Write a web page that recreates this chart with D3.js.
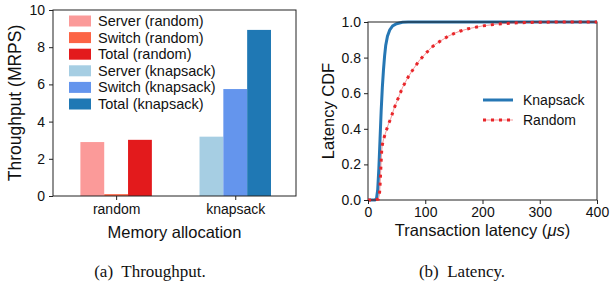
<!DOCTYPE html>
<html><head><meta charset="utf-8">
<script src="https://cdn.jsdelivr.net/npm/d3@7"></script>
<style>
html,body{margin:0;padding:0;background:#fff;}
svg{display:block;}
text{font-family:"Liberation Sans",Arial,sans-serif;fill:#111;}
.cap{font-family:"Liberation Serif","DejaVu Serif",serif;white-space:pre;}
</style></head>
<body>
<svg id="c" width="611" height="287"></svg>
<script>
// ---- data: throughput ----
const groups = ["random", "knapsack"];
const seriesNames = ["Server (random)", "Switch (random)", "Total (random)",
                     "Server (knapsack)", "Switch (knapsack)", "Total (knapsack)"];
const seriesColors = ["#fb9a99", "#fc6445", "#e31a1c", "#a6cee3", "#6495ed", "#1f78b4"];
const randomValues = [2.9, 0.1, 3.02];      // server, switch, total
const knapsackValues = [3.19, 5.75, 8.93];  // server, switch, total
const yTicksA = [0, 2, 4, 6, 8, 10];

// ---- data: latency CDF ----
const knapsackX = [0, 12, 15, 17, 19, 21, 23, 25, 27, 29, 31, 34, 38, 43, 50, 60, 70, 400];
const knapsackCDF = [0, 0, 0.01, 0.06, 0.18, 0.34, 0.50, 0.63, 0.73, 0.81, 0.87, 0.92, 0.955, 0.978, 0.99, 0.998, 1, 1];
const randomX = [0, 10, 18, 20, 21, 22, 23, 24, 25, 27, 30, 35, 40, 45, 50, 55, 60, 70, 80, 90, 100,
                 110, 120, 130, 140, 150, 160, 175, 190, 200, 225, 250, 275, 300, 350, 400];
const randomCDF = [0, 0, 0.005, 0.03, 0.08, 0.15, 0.22, 0.28, 0.31, 0.34, 0.37, 0.42, 0.46, 0.51, 0.55, 0.59, 0.63, 0.69, 0.74, 0.785, 0.82,
                   0.855, 0.88, 0.9, 0.92, 0.935, 0.948, 0.962, 0.972, 0.978, 0.988, 0.994, 0.997, 0.999, 1, 1];
const xTicksB = [0, 100, 200, 300, 400];
const yTicksB = [0, 0.2, 0.4, 0.6, 0.8, 1.0];

const svg = d3.select("#c");
const AX = "#222";

// ================= Panel (a) =================
const A = {l: 53, r: 296, t: 10, b: 196};
const xA = d3.scaleLinear().domain([-0.53, 1.51]).range([A.l, A.r]);
const yA = d3.scaleLinear().domain([0, 10]).range([A.b, A.t]);
const gA = svg.append("g");
const barW = 0.2;
const offsets = [-0.2, 0, 0.2];
const barData = [];
randomValues.forEach((v, i) => barData.push({g: 0, off: offsets[i], v, c: seriesColors[i]}));
knapsackValues.forEach((v, i) => barData.push({g: 1, off: offsets[i], v, c: seriesColors[i + 3]}));
gA.selectAll("rect.bar").data(barData).enter().append("rect")
  .attr("x", d => xA(d.g + d.off - barW / 2))
  .attr("width", d => xA(d.g + d.off + barW / 2) - xA(d.g + d.off - barW / 2))
  .attr("y", d => yA(d.v)).attr("height", d => yA(0) - yA(d.v))
  .attr("fill", d => d.c);

// frame
gA.append("rect").attr("x", A.l).attr("y", A.t).attr("width", A.r - A.l).attr("height", A.b - A.t)
  .attr("fill", "none").attr("stroke", AX).attr("stroke-width", 1);

const axYA = d3.axisLeft(yA).tickValues(yTicksA).tickSize(4).tickPadding(4).tickFormat(d3.format("d"));
gA.append("g").attr("transform", `translate(${A.l},0)`).call(axYA)
  .call(g => { g.select(".domain").remove(); g.selectAll("line").attr("stroke", AX);
    g.selectAll("text").attr("font-size", 14).attr("font-family", "Liberation Sans").attr("fill", "#111"); });
const axXA = d3.axisBottom(xA).tickValues([0, 1]).tickSize(4).tickPadding(4).tickFormat((d, i) => groups[i]);
gA.append("g").attr("transform", `translate(0,${A.b})`).call(axXA)
  .call(g => { g.select(".domain").remove(); g.selectAll("line").attr("stroke", AX);
    g.selectAll("text").attr("font-size", 14).attr("font-family", "Liberation Sans").attr("fill", "#111"); });

gA.append("text").attr("x", (A.l + A.r) / 2).attr("y", 238).attr("text-anchor", "middle")
  .attr("font-size", 16.5).text("Memory allocation");
gA.append("text").attr("transform", `translate(21,${(A.t + A.b) / 2}) rotate(-90)`).attr("text-anchor", "middle")
  .attr("font-size", 17.5).text("Throughput (MRPS)");

// legend (a)
const legA = gA.append("g");
seriesNames.forEach((n, i) => {
  const cy = 21 + i * 16.6;
  legA.append("rect").attr("x", 69).attr("y", cy - 5.5).attr("width", 22).attr("height", 11).attr("fill", seriesColors[i]);
  legA.append("text").attr("x", 98).attr("y", cy).attr("dy", "0.35em").attr("font-size", 14.5).text(n);
});

// caption (a)
svg.append("text").attr("class", "cap").attr("x", 150).attr("y", 277).attr("text-anchor", "middle")
  .attr("font-size", 17).text("(a)  Throughput.");

// ================= Panel (b) =================
const B = {l: 368, r: 597, t: 22, b: 200};
const xB = d3.scaleLinear().domain([0, 400]).range([B.l, B.r]);
const yB = d3.scaleLinear().domain([0, 1]).range([B.b, B.t]);
const gB = svg.append("g");
const line = d3.line().x(d => xB(d[0])).y(d => yB(d[1]));
const kData = knapsackX.map((x, i) => [x, knapsackCDF[i]]);
const rData = randomX.map((x, i) => [x, randomCDF[i]]);
const clip = svg.append("clipPath").attr("id", "clipB").append("rect")
  .attr("x", B.l - 2).attr("y", B.t - 3).attr("width", B.r - B.l + 4).attr("height", B.b - B.t + 5);

gB.append("path").datum(kData).attr("d", line).attr("fill", "none")
  .attr("stroke", "#2677b4").attr("stroke-width", 3).attr("clip-path", "url(#clipB)");

gB.append("rect").attr("x", B.l).attr("y", B.t).attr("width", B.r - B.l).attr("height", B.b - B.t)
  .attr("fill", "none").attr("stroke", AX).attr("stroke-width", 1);

gB.append("path").datum(rData).attr("d", line).attr("fill", "none")
  .attr("stroke", "#e8262a").attr("stroke-width", 0.8).attr("stroke-opacity", 0.6).attr("clip-path", "url(#clipB)");
gB.append("path").datum(rData).attr("d", line).attr("fill", "none")
  .attr("stroke", "#e8262a").attr("stroke-width", 3).attr("stroke-dasharray", "3,5").attr("clip-path", "url(#clipB)");

const axYB = d3.axisLeft(yB).tickValues(yTicksB).tickSize(4).tickPadding(3).tickFormat(d3.format(".1f"));
gB.append("g").attr("transform", `translate(${B.l},0)`).call(axYB)
  .call(g => { g.select(".domain").remove(); g.selectAll("line").attr("stroke", AX);
    g.selectAll("text").attr("font-size", 14).attr("font-family", "Liberation Sans").attr("fill", "#111"); });
const axXB = d3.axisBottom(xB).tickValues(xTicksB).tickSize(4).tickPadding(3).tickFormat(d3.format("d"));
gB.append("g").attr("transform", `translate(0,${B.b})`).call(axXB)
  .call(g => { g.select(".domain").remove(); g.selectAll("line").attr("stroke", AX);
    g.selectAll("text").attr("font-size", 14).attr("font-family", "Liberation Sans").attr("fill", "#111"); });

const xl = gB.append("text").attr("x", (B.l + B.r) / 2).attr("y", 236).attr("text-anchor", "middle").attr("font-size", 16.5);
xl.append("tspan").text("Transaction latency (");
xl.append("tspan").attr("font-style", "italic").text("\u03bcs");
xl.append("tspan").text(")");
gB.append("text").attr("transform", `translate(334,${(B.t + B.b) / 2}) rotate(-90)`).attr("text-anchor", "middle")
  .attr("font-size", 16.5).text("Latency CDF");

// legend (b)
const legB = gB.append("g");
legB.append("line").attr("x1", 483).attr("x2", 513).attr("y1", 100).attr("y2", 100)
  .attr("stroke", "#2677b4").attr("stroke-width", 3);
legB.append("text").attr("x", 523).attr("y", 100).attr("dy", "0.35em").attr("font-size", 14).text("Knapsack");
legB.append("line").attr("x1", 483).attr("x2", 513).attr("y1", 120).attr("y2", 120)
  .attr("stroke", "#e8262a").attr("stroke-width", 0.8).attr("stroke-opacity", 0.6);
legB.append("line").attr("x1", 483).attr("x2", 513).attr("y1", 120).attr("y2", 120)
  .attr("stroke", "#e8262a").attr("stroke-width", 3).attr("stroke-dasharray", "3,5");
legB.append("text").attr("x", 523).attr("y", 120).attr("dy", "0.35em").attr("font-size", 14).text("Random");

// caption (b)
svg.append("text").attr("class", "cap").attr("x", 462).attr("y", 277).attr("text-anchor", "middle")
  .attr("font-size", 17).text("(b)  Latency.");
</script>
</body></html>
